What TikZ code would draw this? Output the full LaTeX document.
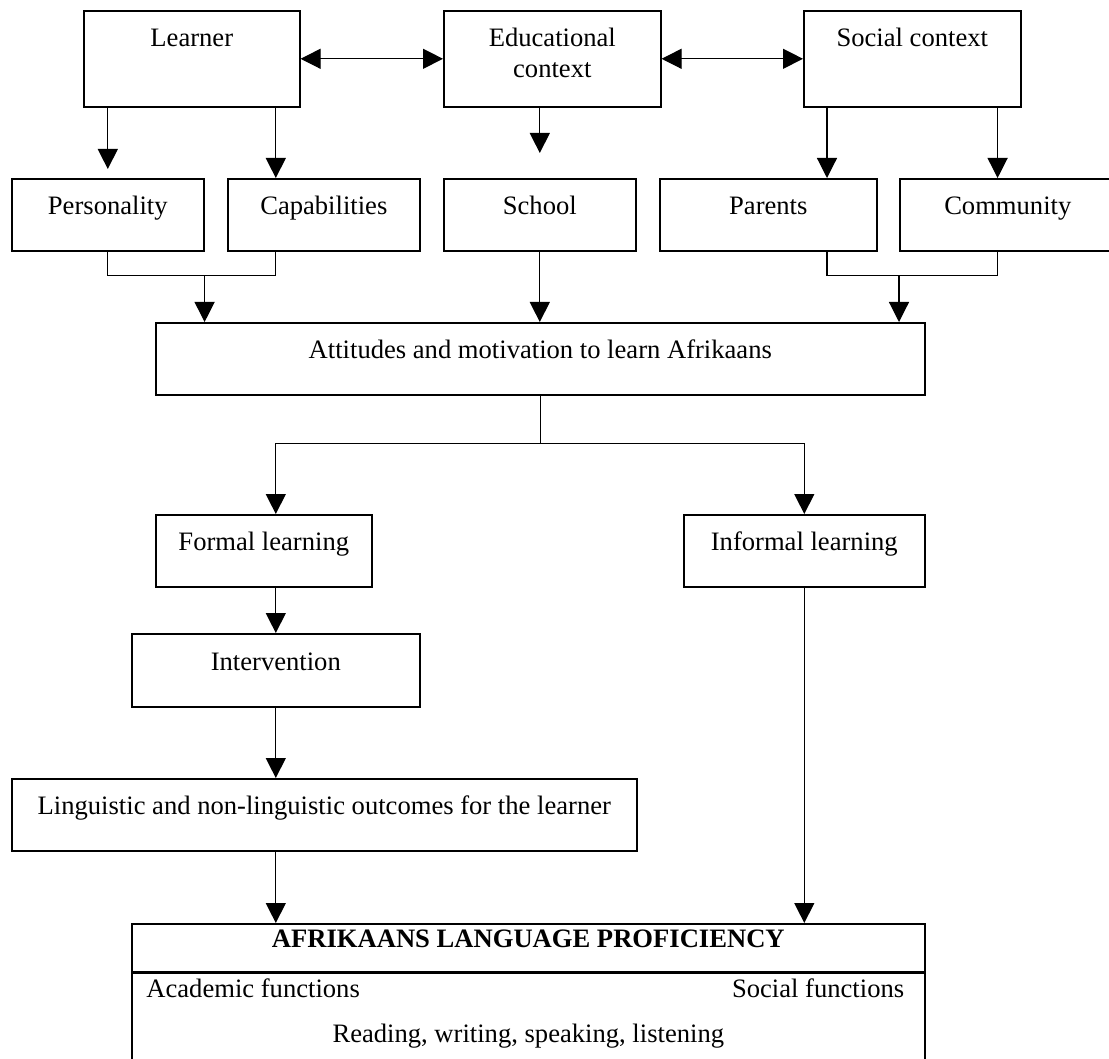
\documentclass[tikz,border=0pt]{standalone}
\usepackage{fontspec}
\setmainfont{Liberation Serif}
\usetikzlibrary{arrows.meta}

\begin{document}
\begin{tikzpicture}[x=0.5pt, y=-0.5pt,
  box/.style={draw, line width=0.8pt, anchor=north west, inner sep=0pt,
    minimum height=36pt, text height=9pt, text depth=9pt,
    font=\fontsize{13.3}{15.5}\selectfont},
  tallbox/.style={box, minimum height=48pt, text depth=21pt},
  txt/.style={inner sep=0pt, font=\fontsize{13.3}{15.5}\selectfont},
  arr/.style={-{Triangle[length=10pt,width=10pt]}, line width=0.6pt},
  both/.style={{Triangle[length=10pt,width=10pt]}-{Triangle[length=10pt,width=10pt]}, line width=0.6pt},
  link/.style={line width=0.6pt}]
  \useasboundingbox (0,0) rectangle (1109,1059);
  \clip (0,0) rectangle (1109,1059);

  % Draw the three contexts
  \node[tallbox, minimum width=108pt] (learner) at (83,10) {Learner};
  \node[tallbox, minimum width=108.5pt, align=center, text height=19pt, text depth=0pt] (educ) at (443,10) {Educational\\context};
  \node[tallbox, minimum width=108.5pt] (social) at (803,10) {Social context};

  % Second row
  \node[box, minimum width=96pt] (person) at (11,178) {Personality};
  \node[box, minimum width=96pt] (capab) at (227,178) {Capabilities};
  \node[box, minimum width=96pt] (school) at (443,178) {School};
  \node[box, minimum width=108.5pt] (parents) at (659,178) {Parents};
  \node[box, minimum width=114pt, text depth=9pt] (commun) at (899,178) {\hspace*{-6pt}Community};

  % Middle part
  \node[box, minimum width=384.5pt] (attitude) at (155,322) {Attitudes and motivation to learn Afrikaans};
  \node[box, minimum width=108pt] (formal) at (155,514) {Formal learning};
  \node[box, minimum width=120.5pt] (informal) at (683,514) {Informal learning};
  \node[box, minimum width=144pt, minimum height=36.5pt] (interv) at (131,633) {Intervention};
  \node[box, minimum width=312.5pt] (outcome) at (11,778) {Linguistic and non-linguistic outcomes for the learner};

  % Proficiency box
  \node[box, minimum width=396.5pt, minimum height=24pt, font=\fontsize{13.3}{15.5}\selectfont\bfseries] (proftitle) at (131,923) {AFRIKAANS LANGUAGE PROFICIENCY};
  \node[box, minimum width=396.5pt, minimum height=48pt] (profbody) at (proftitle.south west) {};
  \node[txt, anchor=base west] (academic) at ([xshift=7.5pt,yshift=-12.5pt]profbody.north west) {Academic functions};
  \node[txt, anchor=base east] (socialfn) at ([xshift=-10.5pt,yshift=-12.5pt]profbody.north east) {Social functions};
  \node[txt, anchor=base] (skills) at ([yshift=-35pt]profbody.north) {Reading, writing, speaking, listening};

  % Arrows between the contexts
  \draw[both] (learner.east) -- (educ.west);
  \draw[both] (educ.east) -- (social.west);

  % Arrows down to the second row
  \coordinate (sl) at ([xshift=12pt]social.south west);
  \coordinate (sr) at ([xshift=-12pt]social.south east);
  \draw[arr] (learner.south -| person) -- ([yshift=4.5pt]person.north);
  \draw[arr] (learner.south -| interv) -- (capab.north -| interv);
  \draw[arr] (educ.south -| school) -- ([yshift=12.5pt]school.north);
  \draw[arr] (sl) -- (sl |- parents.north);
  \draw[arr] (sr) -- (sr |- commun.north);

  % Join the second row into the attitudes box
  \draw[link] (person.south) -- ++(0,24) -| (capab.south -| interv);
  \coordinate (pj) at ([yshift=-12pt]person.south east);
  \draw[arr] (pj) -- (pj |- attitude.north);
  \draw[arr] (school.south) -- (school.south |- attitude.north);
  \draw[link] (sl |- parents.south) -- ++(0,24) -| (sr |- commun.south);
  \coordinate (cj) at ([yshift=-12pt]commun.south west);
  \draw[arr] (cj) -- (cj |- attitude.north);

  % Split into formal and informal learning
  \draw[link] (attitude.south) -- ++(0,48) coordinate (split);
  \draw[arr] (split) -| (formal.north -| interv);
  \draw[arr] (split) -| (informal.north);

  % Down to the proficiency box
  \draw[arr] (formal.south -| interv) -- (interv.north);
  \draw[arr] (interv.south) -- (outcome.north -| interv);
  \draw[arr] (outcome.south -| interv) -- (proftitle.north -| interv);
  \draw[arr] (informal.south) -- (proftitle.north -| informal);
\end{tikzpicture}
\end{document}
